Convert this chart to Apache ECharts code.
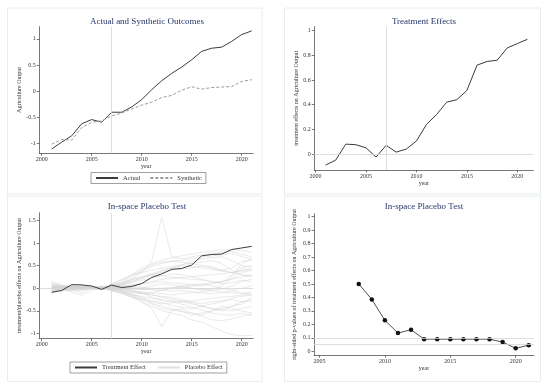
<!DOCTYPE html>
<html>
<head>
<meta charset="utf-8">
<script src="https://cdn.jsdelivr.net/npm/echarts@6/dist/echarts.min.js"></script>
<style>
html, body { margin: 0; padding: 0; background: #fff; }
#main { width: 550px; height: 387px; }
</style>
</head>
<body>
<div id="main"></div>
<script>
'use strict';

// ---- data ----
var years = [2001, 2002, 2003, 2004, 2005, 2006, 2007, 2008, 2009, 2010, 2011,
             2012, 2013, 2014, 2015, 2016, 2017, 2018, 2019, 2020, 2021];

var actual    = [-1.10, -0.97, -0.85, -0.62, -0.54, -0.59, -0.40, -0.40, -0.30, -0.16, 0.03,
                  0.20, 0.34, 0.46, 0.60, 0.76, 0.82, 0.84, 0.95, 1.08, 1.15];
var synthetic = [-1.01, -0.92, -0.93, -0.695, -0.59, -0.565, -0.47, -0.415, -0.34, -0.265, -0.21,
                 -0.12, -0.08, 0.02, 0.085, 0.04, 0.07, 0.08, 0.09, 0.185, 0.22];
var effect    = [-0.09, -0.05, 0.08, 0.075, 0.05, -0.025, 0.07, 0.015, 0.04, 0.105, 0.24,
                  0.32, 0.42, 0.44, 0.515, 0.72, 0.75, 0.76, 0.86, 0.895, 0.93];

var pYears  = [2008, 2009, 2010, 2011, 2012, 2013, 2014, 2015, 2016, 2017, 2018, 2019, 2020, 2021];
var pValues = [0.50, 0.385, 0.23, 0.135, 0.16, 0.09, 0.09, 0.09, 0.09, 0.09, 0.09, 0.068, 0.022, 0.045];

// placebo effects, one row per control unit (2001..2021)
var placebo = [
  [0.05,0.02,-0.03,0.04,0.02,0.00,0.06,0.15,0.30,0.45,0.55,0.62,0.68,0.72,0.76,0.80,0.83,0.85,0.86,0.84,0.80],
  [-0.02,0.03,0.05,0.01,0.03,-0.02,0.04,0.10,0.20,0.35,0.60,1.58,0.70,0.65,0.70,0.74,0.78,0.80,0.82,0.75,0.70],
  [0.10,0.05,0.00,-0.05,0.02,0.03,-0.02,0.12,0.25,0.38,0.48,0.55,0.60,0.62,0.66,0.70,0.72,0.74,0.78,0.70,0.65],
  [0.00,0.01,0.02,0.00,0.01,0.02,0.03,0.08,0.15,0.22,0.30,0.35,0.40,0.42,0.45,0.50,0.48,0.40,0.45,0.60,0.62],
  [-0.05,0.00,0.04,-0.02,0.01,0.03,-0.04,-0.10,-0.20,-0.30,-0.40,-0.50,-0.55,-0.60,-0.70,-0.75,-0.85,-0.95,-1.03,-1.05,-1.05],
  [0.02,-0.03,0.01,0.03,-0.01,0.00,0.02,-0.05,-0.15,-0.30,-0.45,-0.85,-0.50,-0.45,-0.55,-0.60,-0.50,-0.40,-0.45,-0.50,-0.55],
  [0.15,0.08,-0.02,-0.10,0.00,0.05,0.00,-0.08,-0.18,-0.25,-0.35,-0.40,-0.45,-0.50,-0.60,-0.55,-0.50,-0.45,-0.40,-0.35,-0.20],
  [-0.08,-0.02,0.05,0.03,0.00,-0.03,0.05,0.00,-0.05,-0.10,-0.20,-0.28,-0.30,-0.35,-0.42,-0.48,-0.55,-0.58,-0.60,-0.55,-0.60],
  [0.05,0.00,-0.08,-0.15,-0.05,0.02,0.08,0.20,0.30,0.35,0.40,0.45,0.48,0.52,0.55,0.58,0.62,0.55,0.40,0.30,0.25],
  [0.00,0.02,0.04,0.02,0.00,-0.01,0.02,0.05,0.08,0.10,0.12,0.15,0.12,0.10,0.08,0.05,0.10,0.15,0.20,0.25,0.30],
  [-0.03,0.00,0.02,0.01,0.02,0.00,-0.02,-0.03,-0.05,-0.08,-0.10,-0.12,-0.15,-0.12,-0.10,-0.08,-0.05,-0.02,0.05,0.15,0.20],
  [0.08,0.04,0.00,0.02,0.03,0.01,0.06,0.10,0.18,0.25,0.30,0.28,0.25,0.22,0.20,0.18,0.15,0.12,0.30,0.45,0.50],
  [-0.10,-0.05,0.02,0.05,0.02,-0.02,-0.05,-0.12,-0.20,-0.25,-0.30,-0.35,-0.32,-0.30,-0.28,-0.25,-0.22,-0.20,-0.18,-0.15,-0.12],
  [0.02,0.00,-0.02,0.00,0.01,0.02,0.00,0.02,0.00,-0.02,-0.04,-0.05,-0.06,-0.05,-0.08,-0.10,-0.12,-0.10,-0.05,0.00,0.05],
  [0.12,0.06,0.03,0.00,-0.02,0.00,0.10,0.18,0.28,0.40,0.52,0.58,0.60,0.58,0.55,0.50,0.45,0.40,0.35,0.40,0.45],
  [-0.05,-0.03,0.00,0.03,0.04,0.01,-0.03,-0.06,-0.10,-0.12,-0.15,-0.18,-0.20,-0.25,-0.30,-0.35,-0.30,-0.28,-0.25,-0.30,-0.28],
  [0.00,-0.04,-0.06,-0.03,0.00,0.02,0.04,0.06,0.05,0.02,0.00,-0.02,0.00,0.02,0.05,0.08,0.12,0.15,0.20,0.35,0.40],
  [0.04,0.02,0.01,0.03,0.00,-0.02,0.01,-0.02,-0.06,-0.10,-0.14,-0.20,-0.24,-0.28,-0.32,-0.40,-0.45,-0.48,-0.50,-0.45,-0.40],
  [-0.06,0.00,0.03,0.05,0.03,0.00,0.03,0.08,0.12,0.18,0.22,0.28,0.32,0.30,0.25,0.20,0.15,0.10,0.12,0.18,0.15],
  [0.06,0.03,0.00,-0.02,-0.01,0.01,0.00,-0.04,-0.08,-0.12,-0.10,-0.05,0.00,0.05,0.08,0.10,0.05,0.00,-0.05,-0.10,-0.15],
  [0.01,0.03,0.02,-0.01,0.00,0.03,-0.01,0.03,0.06,0.10,0.15,0.20,0.22,0.24,0.26,0.28,0.30,0.32,0.35,0.38,0.42],
  [-0.02,-0.01,0.00,0.02,0.01,0.00,-0.03,-0.08,-0.15,-0.22,-0.28,-0.32,-0.38,-0.42,-0.45,-0.40,-0.35,-0.30,-0.22,-0.18,-0.15],
  [0.03,0.05,0.06,0.04,0.02,0.00,0.08,0.12,0.20,0.25,0.32,0.40,0.45,0.50,0.48,0.45,0.42,0.38,0.35,0.30,0.28],
  [-0.04,-0.06,-0.03,0.00,0.02,0.04,-0.06,-0.10,-0.15,-0.18,-0.22,-0.25,-0.28,-0.30,-0.35,-0.40,-0.45,-0.50,-0.40,-0.30,-0.25],
  [0.07,0.05,0.02,0.00,0.02,0.00,0.02,0.00,-0.02,-0.03,-0.02,0.00,0.02,0.03,0.00,-0.02,-0.05,-0.08,-0.10,-0.12,-0.08],
  [-0.01,0.02,0.04,0.06,0.03,0.01,0.05,0.10,0.15,0.22,0.30,0.38,0.45,0.52,0.60,0.65,0.68,0.70,0.62,0.50,0.48],
  [0.02,-0.02,-0.04,-0.02,0.00,0.02,-0.02,-0.05,-0.12,-0.20,-0.32,-0.45,-0.48,-0.52,-0.55,-0.62,-0.70,-0.72,-0.68,-0.62,-0.58],
  [-0.07,-0.04,0.00,0.02,0.00,-0.01,0.01,0.04,0.02,0.00,0.05,0.10,0.08,0.04,0.00,-0.04,-0.02,0.05,0.25,0.55,0.65]
];

var xTicksA = [2000, 2005, 2010, 2015, 2020];
var xTicksB = [2005, 2010, 2015, 2020];
var yTicks1 = [-1, -0.5, 0, 0.5, 1];
var yTicks2 = [0, 0.2, 0.4, 0.6, 0.8, 1];
var yTicks3 = [-1, -0.5, 0, 0.5, 1, 1.5];
var yTicks4 = [0, 0.1, 0.2, 0.3, 0.4, 0.5, 0.6, 0.7, 0.8, 0.9, 1];

// ---- styling ----
var FONT = "'Liberation Serif', 'DejaVu Serif', serif";
var DARK = '#3c3c3c';
var AXIS = '#555';
var REF = '#d6d6d6';
var TITLE = '#24356b';

function pairs(xs, ys) {
    var out = [];
    for (var i = 0; i < xs.length; i++) {
        out.push([xs[i], ys[i]]);
    }
    return out;
}

function plain(v) {
    return String(v);
}

function xAxis(grid, min, max, ticks) {
    return {
        type: 'value', gridIndex: grid, min: min, max: max,
        name: 'year', nameLocation: 'middle', nameGap: 10,
        nameTextStyle: { fontFamily: FONT, fontSize: 6, color: '#333' },
        axisLine: { onZero: false, lineStyle: { color: AXIS, width: 0.8 } },
        axisTick: { customValues: ticks, length: 2.5, lineStyle: { color: AXIS, width: 0.8 } },
        axisLabel: { customValues: ticks, formatter: plain, margin: 3, fontFamily: FONT, fontSize: 6, color: '#333' },
        splitLine: { show: false }
    };
}

function yAxis(grid, min, max, ticks, name, gap) {
    return {
        type: 'value', gridIndex: grid, min: min, max: max,
        name: name, nameLocation: 'middle', nameRotate: 90, nameGap: gap,
        nameTextStyle: { fontFamily: FONT, fontSize: 6, color: '#333' },
        axisLine: { show: true, onZero: false, lineStyle: { color: AXIS, width: 0.8 } },
        axisTick: { show: true, customValues: ticks, length: 2.5, lineStyle: { color: AXIS, width: 0.8 } },
        axisLabel: { customValues: ticks, formatter: plain, margin: 3.5, fontFamily: FONT, fontSize: 6, color: '#333' },
        splitLine: { show: false }
    };
}

function title(text, x, y) {
    return {
        text: text, left: x, top: y, textAlign: 'center', padding: 0,
        textStyle: { fontFamily: FONT, fontSize: 9, fontWeight: 'normal', color: TITLE }
    };
}

function frame(x, y, w, h) {
    return {
        type: 'rect', silent: true, z: -10,
        shape: { x: x, y: y, width: w, height: h },
        style: { fill: 'none', stroke: '#e8edf0', lineWidth: 1 }
    };
}

function refLines(list) {
    return {
        silent: true, symbol: 'none', label: { show: false },
        lineStyle: { color: REF, width: 0.8, type: 'solid' },
        data: list
    };
}

var series = [
    {
        name: 'Actual', type: 'line', xAxisIndex: 0, yAxisIndex: 0,
        data: pairs(years, actual), symbol: 'none',
        lineStyle: { color: DARK, width: 1 }, itemStyle: { color: DARK },
        markLine: refLines([{ xAxis: 2007 }])
    },
    {
        name: 'Synthetic', type: 'line', xAxisIndex: 0, yAxisIndex: 0,
        data: pairs(years, synthetic), symbol: 'none',
        lineStyle: { color: '#9a9a9a', width: 1, type: [3, 2] }, itemStyle: { color: '#9a9a9a' }
    },
    {
        name: 'Effect', type: 'line', xAxisIndex: 1, yAxisIndex: 1,
        data: pairs(years, effect), symbol: 'none',
        lineStyle: { color: DARK, width: 1 }, itemStyle: { color: DARK },
        markLine: refLines([{ xAxis: 2007 }, { yAxis: 0 }])
    }
];

for (var i = 0; i < placebo.length; i++) {
    series.push({
        name: 'Placebo Effect', type: 'line', xAxisIndex: 2, yAxisIndex: 2,
        data: pairs(years, placebo[i]), symbol: 'none', z: 1,
        lineStyle: { color: '#d2d2d2', width: 0.7, opacity: 0.7 }, itemStyle: { color: '#dcdcdc' }
    });
}

series.push({
    name: 'Treatment Effect', type: 'line', xAxisIndex: 2, yAxisIndex: 2,
    data: pairs(years, effect), symbol: 'none', z: 5,
    lineStyle: { color: DARK, width: 1 }, itemStyle: { color: DARK },
    markLine: refLines([{ xAxis: 2007 }, { yAxis: 0 }])
});

series.push({
    name: 'p-value', type: 'line', xAxisIndex: 3, yAxisIndex: 3,
    data: pairs(pYears, pValues), symbol: 'circle', symbolSize: 4.5,
    lineStyle: { color: DARK, width: 0.9 }, itemStyle: { color: '#111' },
    markLine: refLines([{ yAxis: 0.1 }, { yAxis: 0.05 }])
});

var legendText = { fontFamily: FONT, fontSize: 6.5, color: '#333' };

var option = {
    animation: false,
    backgroundColor: '#fff',
    title: [
        title('Actual and Synthetic Outcomes', 147, 17),
        title('Treatment Effects', 424, 17),
        title('In-space Placebo Test', 147, 202),
        title('In-space Placebo Test', 424, 202)
    ],
    grid: [
        { left: 39.3, top: 26.7, width: 213.9, height: 126.6 },
        { left: 314.3, top: 26.7, width: 219, height: 143.3 },
        { left: 39.3, top: 212.7, width: 213.9, height: 126 },
        { left: 314, top: 213.7, width: 220, height: 141.6 }
    ],
    xAxis: [
        xAxis(0, 1999.76, 2021.15, xTicksA),
        xAxis(1, 1999.88, 2021.58, xTicksA),
        xAxis(2, 1999.76, 2021.15, xTicksA),
        xAxis(3, 2004.58, 2021.4, xTicksB)
    ],
    yAxis: [
        yAxis(0, -1.183, 1.23, yTicks1, 'Agriculture Output', 17),
        yAxis(1, -0.13, 1.032, yTicks2, 'treatment effects on Agriculture Output', 15),
        yAxis(2, -1.12, 1.678, yTicks3, 'treatment/placebo effects on Agriculture Output', 17),
        yAxis(3, -0.03, 1.022, yTicks4, 'right-sided p-values of treatment effects on Agriculture Output', 17)
    ],
    legend: [
        {
            data: ['Actual', 'Synthetic'], left: 91, top: 172.5, orient: 'horizontal',
            padding: [2, 4], itemGap: 9, itemWidth: 22, itemHeight: 8,
            borderColor: '#777', borderWidth: 0.7, textStyle: legendText,
            itemStyle: { opacity: 0 }, selectedMode: false
        },
        {
            data: ['Treatment Effect', 'Placebo Effect'], left: 70, top: 362, orient: 'horizontal',
            padding: [2, 4], itemGap: 11, itemWidth: 22, itemHeight: 8,
            borderColor: '#777', borderWidth: 0.7, textStyle: legendText,
            itemStyle: { opacity: 0 }, selectedMode: false
        }
    ],
    graphic: [
        frame(7.5, 8, 254.5, 186),
        frame(284.5, 8, 256, 186),
        frame(7.5, 196, 254.5, 185.5),
        frame(284.5, 196, 256, 185.5)
    ],
    series: series
};

var chart = echarts.init(document.getElementById('main'), null, { renderer: 'canvas' });
chart.setOption(option);
</script>
</body>
</html>
